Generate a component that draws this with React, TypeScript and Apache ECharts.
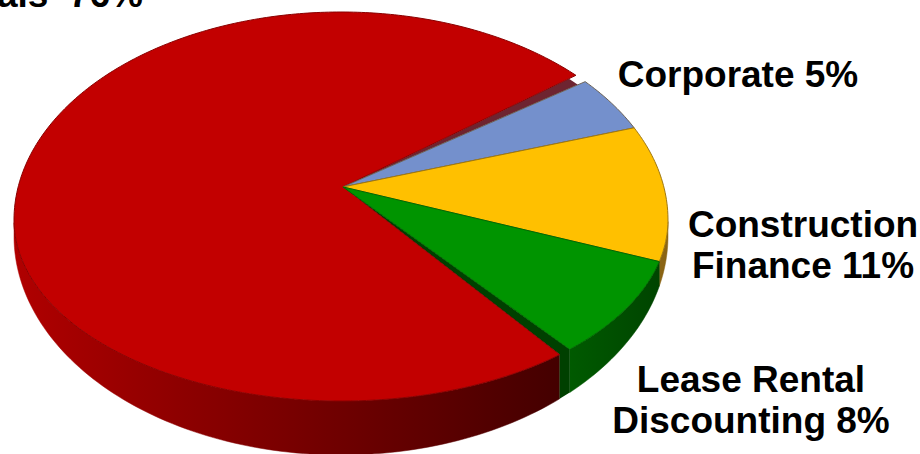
import React, { useEffect, useRef } from "react";
import * as echarts from "echarts";

const categories = ["Individuals", "Corporate", "Construction Finance", "Lease Rental Discounting"];
const shares = [76, 5, 11, 8];
const labelLines = [["Individuals  76%"], ["Corporate 5%"], ["Construction", "Finance 11%"], ["Lease Rental", "Discounting 8%"]];
const faceColors = ["#C20000", "#7490CC", "#FFC000", "#009400"];
const edgeColors = ["#8A0000", "#6A6258", "#A07810", "#006A00"];
const startDeg = 59.3;
const slicePads: [number, number][] = [[0.1, 2.8], [0.1, 0], [0, 0], [0, 1.8]];

// perspective pie geometry (an ellipse whose top half is taller than its bottom half)
const CX = 341, CY = 220, RX = 327, RY_TOP = 208, RY_BOTTOM = 181;
const WALL_CY = 236, WALL_RY = 219;
const APEX_RE = 0.006, APEX_IM = -0.159;
const APEX = [CX + RX * APEX_RE, CY + RY_TOP * APEX_IM];

function disk(deg: number) {
  const t = (deg * Math.PI) / 180;
  const wr = Math.cos(t), wi = Math.sin(t);
  const nr = wr + APEX_RE, ni = wi + APEX_IM;
  const dr = 1 + APEX_RE * wr + APEX_IM * wi, di = APEX_RE * wi - APEX_IM * wr;
  const m = dr * dr + di * di;
  return { u: (nr * dr + ni * di) / m, v: (ni * dr - nr * di) / m };
}
type P = { u: number; v: number };
const facePoint = ({ u, v }: P) => [CX + RX * u, CY + (v < 0 ? RY_TOP : RY_BOTTOM) * v];
const wallPoint = ({ u, v }: P) => [CX + RX * u, WALL_CY + WALL_RY * Math.max(0, v)];
const towardApex = (p: number[], k: number) => [APEX[0] + (p[0] - APEX[0]) * k, APEX[1] + (p[1] - APEX[1]) * k];

function bounds(i: number) {
  const total = shares.reduce((a, b) => a + b, 0);
  let s = startDeg;
  for (let k = 0; k < i; k++) s += (shares[k] / total) * 360;
  const e = s + (shares[i] / total) * 360;
  return [s + slicePads[i][0], e - slicePads[i][1]];
}

function arc(a: number, b: number) {
  const out: P[] = [];
  const n = Math.max(2, Math.ceil(Math.abs(b - a)));
  for (let i = 0; i <= n; i++) out.push(disk(a + ((b - a) * i) / n));
  return out;
}

const wallFills: any[] = [
  new echarts.graphic.LinearGradient(0, 0, 1, 0, [
    { offset: 0, color: "#B00000" },
    { offset: 0.3, color: "#8E0000" },
    { offset: 0.7, color: "#640000" },
    { offset: 1, color: "#440000" },
  ]),
  "#555566",
  "#8A6414",
  new echarts.graphic.LinearGradient(0, 0, 1, 0, [
    { offset: 0, color: "#005A00" },
    { offset: 1, color: "#004400" },
  ]),
];

function renderWall(params: any) {
  const i = params.dataIndex;
  const [s, e] = bounds(i);
  const pts = arc(s, e).filter((p) => p.v >= 0);
  const children: any[] = [];
  if (pts.length >= 2) {
    children.push({
      type: "polygon",
      shape: { points: [...pts.map(facePoint), ...pts.map(wallPoint).reverse()] },
      style: { fill: wallFills[i], stroke: wallFills[i], lineWidth: 0.5 },
    });
  }
  if (i === 3) {
    // cut face of the green slice, seen through the seam with the red slice
    const greenTip = disk(e);
    const redTip = disk(bounds(0)[0]);
    children.push({
      type: "polygon",
      shape: { points: [APEX, facePoint(greenTip), wallPoint(greenTip), wallPoint(redTip), facePoint(redTip)] },
      style: { fill: "#004000" },
    });
  }
  if (i === 1) {
    // dark seam between the red and blue slices, stopping short of the rim
    const redTip = facePoint(disk(bounds(0)[1]));
    const blueTip = facePoint(disk(bounds(1)[0]));
    children.push({
      type: "polygon",
      shape: { points: [APEX, towardApex(redTip, 0.97), towardApex(blueTip, 0.97)] },
      style: { fill: "#6E2430" },
    });
  }
  return { type: "group", children };
}

function renderFace(params: any) {
  const i = params.dataIndex;
  const [s, e] = bounds(i);
  return {
    type: "polygon",
    shape: { points: [APEX, ...arc(s, e).map(facePoint)] },
    style: { fill: faceColors[i], stroke: edgeColors[i], lineWidth: 1, lineJoin: "round" },
  };
}

const labelAnchors = [
  { x: 143, y: -24, align: "right" },
  { x: 738, y: 56, align: "center" },
  { x: 803, y: 206, align: "center" },
  { x: 751, y: 361, align: "center" },
];
const LINE_GAP = 41;

export default function App() {
  const ref = useRef<HTMLDivElement>(null);
  useEffect(() => {
    const chart = echarts.init(ref.current!, undefined, { renderer: "svg" });
    const fontFamily = '"Liberation Sans", Arial, sans-serif';
    const labels = labelLines.flatMap((lines, i) =>
      lines.map((line, j) => ({
        type: "text",
        x: labelAnchors[i].x,
        y: labelAnchors[i].y + j * LINE_GAP,
        silent: true,
        style: {
          text: line,
          fill: "#000000",
          font: `bold 37px ${fontFamily}`,
          textAlign: labelAnchors[i].align,
          textVerticalAlign: "top",
        },
      }))
    );
    const rows = categories.map((name, i) => ({ name, value: [shares[i]] }));
    chart.setOption({
      animation: false,
      backgroundColor: "#FFFFFF",
      graphic: { elements: labels },
      series: [
        { type: "custom", coordinateSystem: "none", silent: true, z: 1, renderItem: renderWall, data: rows },
        { type: "custom", coordinateSystem: "none", silent: true, z: 2, renderItem: renderFace, data: rows },
      ],
    });
    return () => chart.dispose();
  }, []);
  return (
    <div
      ref={ref}
      style={{ position: "fixed", left: 0, top: 0, width: 920, height: 454, background: "#fff" }}
    />
  );
}
